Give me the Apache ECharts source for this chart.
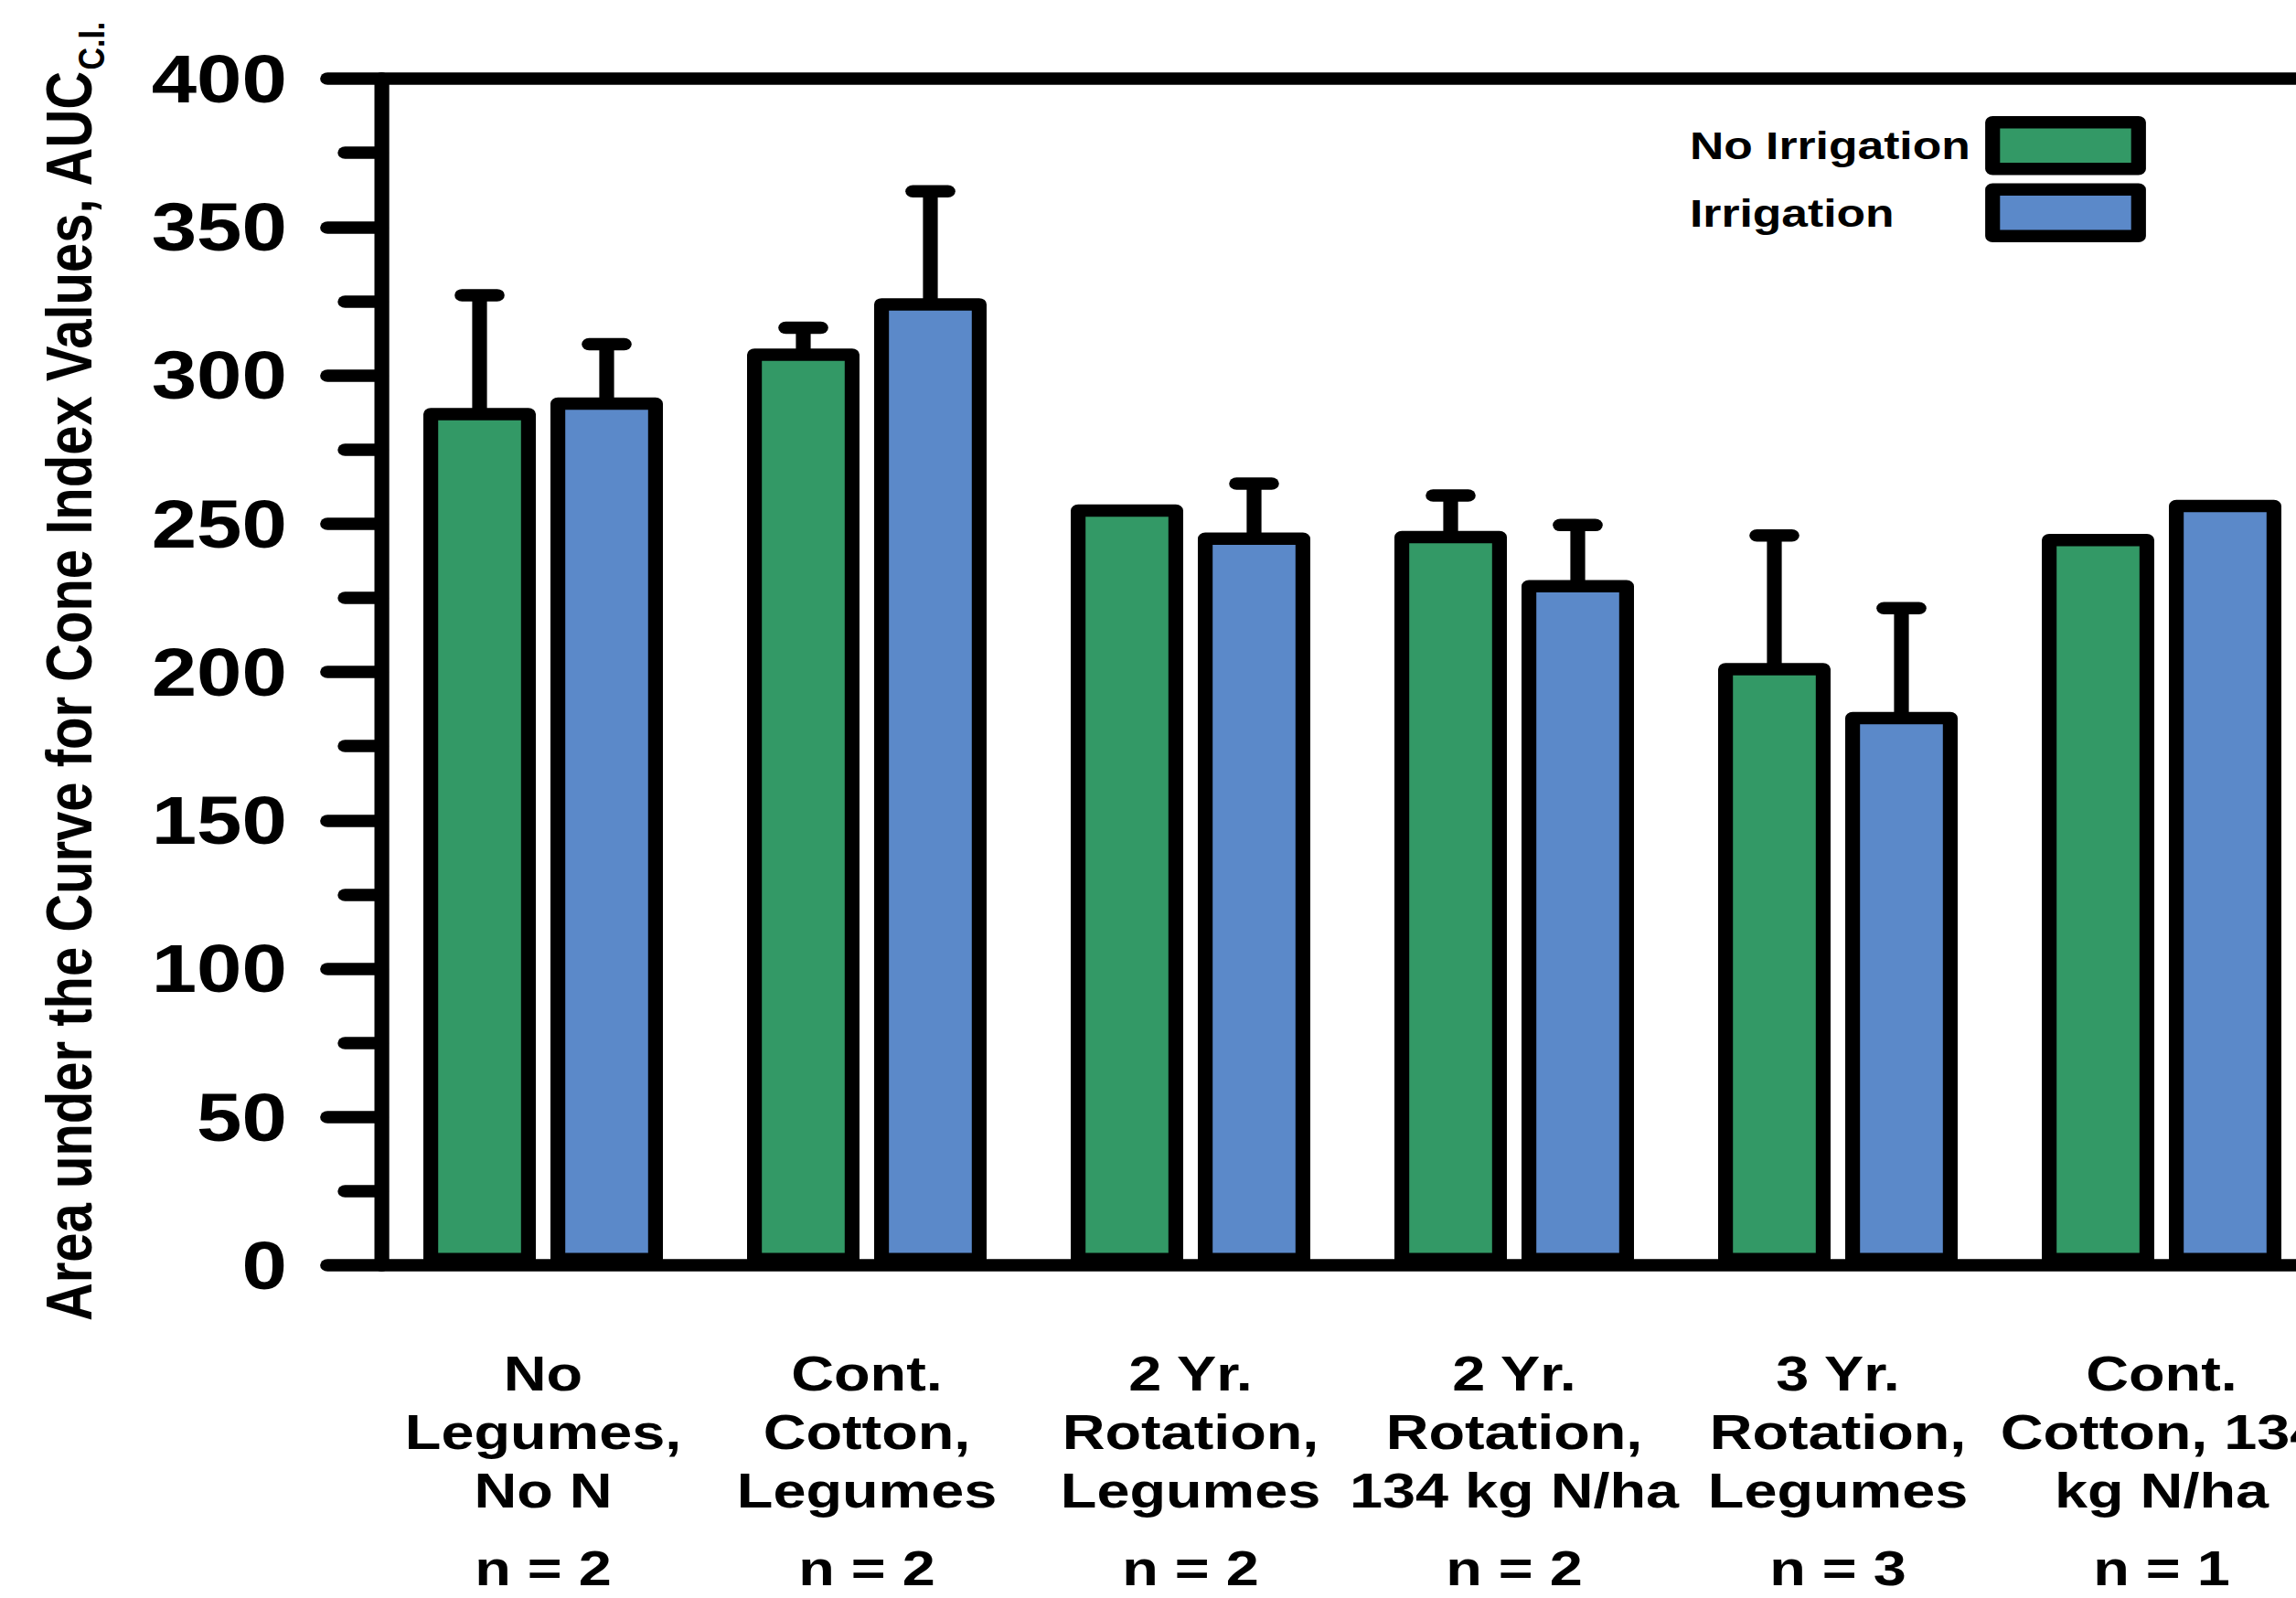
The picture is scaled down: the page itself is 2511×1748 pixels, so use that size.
<!DOCTYPE html>
<html><head><meta charset="utf-8">
<script src="https://cdn.jsdelivr.net/npm/echarts@6/dist/echarts.min.js"></script>
<style>
html,body{margin:0;padding:0;background:#fff;overflow:hidden;width:2511px;height:1748px}
#wrap{position:absolute;left:0;top:0;width:2511px;height:1748px;overflow:hidden;background:#fff}
#chart{position:absolute;left:0;top:0;width:2092.5px;height:1748px;transform:scaleX(1.2);transform-origin:0 0}
</style></head><body><div id="wrap"><div id="chart"></div></div>
<script>
// ---- data ----
const categories = [
  'No\nLegumes,\nNo N',
  'Cont.\nCotton,\nLegumes',
  '2 Yr.\nRotation,\nLegumes',
  '2 Yr.\nRotation,\n134 kg N/ha',
  '3 Yr.\nRotation,\nLegumes',
  'Cont.\nCotton, 134\nkg N/ha'
];
const sampleSizes = ['n = 2', 'n = 2', 'n = 2', 'n = 2', 'n = 3', 'n = 1'];
const seriesNames = ['No Irrigation', 'Irrigation'];
const noIrrigation = [289, 309, 256.5, 247.5, 203, 246.5];
const noIrrigationErr = [38, 7, null, 12, 43, null];
const irrigation = [292.5, 326, 247, 231, 186.5, 258];
const irrigationErr = [18, 36, 16.5, 18.5, 35, null];
const yTicks = {min: 0, max: 400, interval: 50};
const yTitle = 'Area under the Curve for Cone Index Values, AUC';
const yTitleSub = 'C.I.';

// ---- style ----
const GREEN = '#339966', BLUE = '#5b89c9';
const LW = 13.5;
const FONT = "'Liberation Sans', Arial, Helvetica, sans-serif";
const BAR_W = 102.5, BAR_GAP = 0.13;
const OFFSET = (BAR_W + BAR_W * BAR_GAP) / 2;

function errRender(offset) {
  return function (params, api) {
    const x = api.value(0), v = api.value(1), e = api.value(2);
    if (!(e > 0)) return null;
    const p0 = api.coord([x, v]);
    const p1 = api.coord([x, v + e]);
    const cx = p0[0] + offset;
    return {
      type: 'group',
      children: [
        {type: 'line', shape: {x1: cx, y1: p0[1] + 4, x2: cx, y2: p1[1]},
         style: {stroke: '#000', lineWidth: LW, lineCap: 'butt'}},
        {type: 'line', shape: {x1: cx - 16, y1: p1[1], x2: cx + 16, y2: p1[1]},
         style: {stroke: '#000', lineWidth: LW, lineCap: 'round'}}
      ]
    };
  };
}

const chart = echarts.init(document.getElementById('chart'), null, {renderer: 'svg'});
chart.setOption({
  animation: false,
  backgroundColor: '#fff',
  grid: {left: 347.5, top: 86, width: 1770, height: 1298, containLabel: false, outerBoundsMode: 'none'},
  legend: {
    data: seriesNames,
    orient: 'vertical',
    left: 1540, top: 127,
    padding: 0,
    align: 'right',
    icon: 'rect',
    itemWidth: 133, itemHeight: 51, itemGap: 9,
    itemStyle: {borderColor: '#000', borderWidth: LW, borderJoin: 'round'},
    formatter: function (name) { return '{t|' + name + '}'; },
    textStyle: {
      rich: {t: {fontFamily: FONT, fontWeight: 'bold', fontSize: 43, color: '#000', width: 271, align: 'left', lineHeight: 51}}
    }
  },
  xAxis: [{
    type: 'category',
    data: categories,
    position: 'bottom',
    axisLine: {lineStyle: {color: '#000', width: LW}},
    axisTick: {alignWithLabel: true, length: 52, lineStyle: {color: '#000', width: LW, cap: 'round'}},
    axisLabel: {
      interval: 0, margin: 86,
      formatter: function (value, idx) {
        return value.split('\n').map(function (l) { return '{a|' + l + '}'; }).join('\n') +
          '\n{g| }\n{n|' + sampleSizes[idx] + '}';
      },
      rich: {
        a: {fontFamily: FONT, fontWeight: 'bold', fontSize: 54, color: '#000', lineHeight: 64},
        g: {fontSize: 10, lineHeight: 28},
        n: {fontFamily: FONT, fontWeight: 'bold', fontSize: 54, color: '#000', lineHeight: 50}
      }
    },
    splitLine: {show: false}
  }, {
    type: 'category',
    data: categories,
    position: 'top',
    axisLine: {lineStyle: {color: '#000', width: LW}},
    axisTick: {show: false},
    axisLabel: {show: false},
    splitLine: {show: false}
  }],
  yAxis: {
    type: 'value',
    min: yTicks.min, max: yTicks.max, interval: yTicks.interval,
    name: '{m|' + yTitle + '}{s|' + yTitleSub + '}',
    nameLocation: 'middle',
    nameRotate: 90,
    nameGap: 247,
    nameTextStyle: {
      rich: {
        m: {fontFamily: FONT, fontWeight: 'bold', fontSize: 58, color: '#000', lineHeight: 74},
        s: {fontFamily: FONT, fontWeight: 'bold', fontSize: 34, color: '#000', lineHeight: 34, verticalAlign: 'bottom'}
      }
    },
    axisLine: {show: true, lineStyle: {color: '#000', width: LW}},
    axisTick: {show: true, length: 49, lineStyle: {color: '#000', width: LW, cap: 'round'}},
    minorTick: {show: true, splitNumber: 2, length: 33, lineStyle: {color: '#000', width: LW, cap: 'round'}},
    axisLabel: {fontFamily: FONT, fontWeight: 'bold', fontSize: 74, color: '#000', margin: 86},
    splitLine: {show: false},
    minorSplitLine: {show: false}
  },
  series: [
    {
      name: seriesNames[0], type: 'bar', data: noIrrigation,
      barWidth: BAR_W, barGap: (BAR_GAP * 100) + '%', z: 3,
      itemStyle: {color: GREEN, borderColor: '#000', borderWidth: LW, borderJoin: 'round'}
    },
    {
      name: seriesNames[1], type: 'bar', data: irrigation,
      barWidth: BAR_W, barGap: (BAR_GAP * 100) + '%', z: 3,
      itemStyle: {color: BLUE, borderColor: '#000', borderWidth: LW, borderJoin: 'round'}
    },
    {
      name: 'errNo', type: 'custom', z: 1,
      renderItem: errRender(-OFFSET),
      data: noIrrigation.map(function (v, i) { return [i, v, noIrrigationErr[i] == null ? 0 : noIrrigationErr[i]]; })
    },
    {
      name: 'errIr', type: 'custom', z: 1,
      renderItem: errRender(OFFSET),
      data: irrigation.map(function (v, i) { return [i, v, irrigationErr[i] == null ? 0 : irrigationErr[i]]; })
    }
  ]
});
</script></body></html>
